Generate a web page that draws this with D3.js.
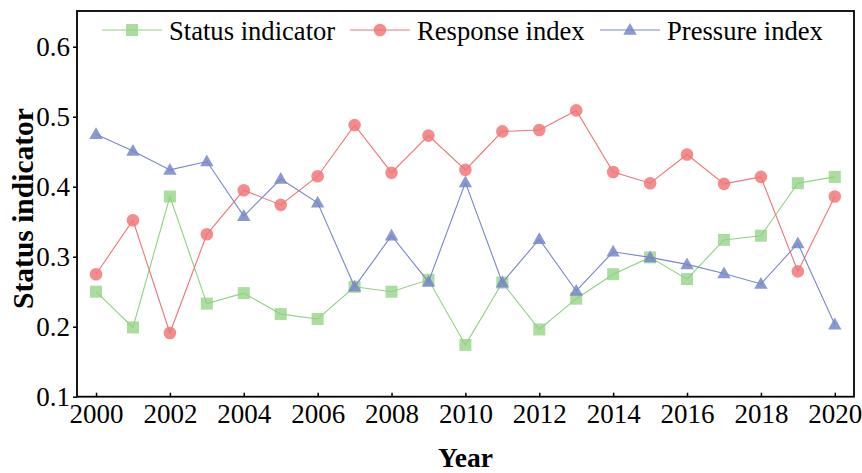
<!DOCTYPE html>
<html><head><meta charset="utf-8">
<script src="https://cdn.jsdelivr.net/npm/d3@7"></script>
<style>body{margin:0;background:#fff}svg{display:block}
svg text{font-family:"Liberation Serif","Times New Roman",Times,serif;}</style>
</head><body>
<script>
const years = d3.range(2000, 2021);
const statusIndicator = [0.250,0.199,0.386,0.233,0.248,0.218,0.211,0.257,0.250,0.267,0.174,0.263,0.196,0.240,0.275,0.299,0.268,0.324,0.330,0.405,0.414];
const responseIndex = [0.275,0.352,0.191,0.332,0.395,0.374,0.415,0.488,0.420,0.473,0.424,0.479,0.481,0.509,0.421,0.405,0.446,0.404,0.414,0.279,0.386];
const pressureIndex = [0.475,0.451,0.424,0.436,0.358,0.411,0.377,0.257,0.330,0.264,0.406,0.263,0.325,0.251,0.307,0.299,0.289,0.276,0.261,0.319,0.203];
const yTicks = [0.1,0.2,0.3,0.4,0.5,0.6];
const xTicks = [2000,2002,2004,2006,2008,2010,2012,2014,2016,2018,2020];
const seriesNames = ["Status indicator","Response index","Pressure index"];

const W=862,H=473;
const L=77,T=11,R=854,B=396.7;
const svg=d3.select("body").append("svg").attr("width",W).attr("height",H);
const x=d3.scaleLinear().domain([1999.485,2020.52]).range([L,R]);
const y=d3.scaleLinear().domain([0.1,0.651]).range([B,T]);

const series=[
 {name:seriesNames[0],vals:statusIndicator,color:"#8fd27f",op:0.75,shape:"square"},
 {name:seriesNames[1],vals:responseIndex,color:"#f07474",op:0.82,shape:"circle"},
 {name:seriesNames[2],vals:pressureIndex,color:"#7587c8",op:0.85,shape:"triangle"}
];
function marker(g,s){
  if(s.shape==="square") g.append("rect").attr("x",-6).attr("y",-6).attr("width",12).attr("height",12);
  else if(s.shape==="circle") g.append("circle").attr("r",6.3);
  else g.append("path").attr("d","M0,-7L6.7,4.8L-6.7,4.8Z");
  g.selectAll("*").attr("fill",s.color).attr("fill-opacity",s.op);
}
const line=d3.line().x((d,i)=>x(years[i])).y(d=>y(d));
series.forEach(s=>{
  svg.append("path").attr("d",line(s.vals)).attr("fill","none").attr("stroke",s.color).attr("stroke-width",1.1);
  s.vals.forEach((v,i)=>{
    const g=svg.append("g").attr("transform",`translate(${x(years[i])},${y(v)})`);
    marker(g,s);
  });
});

const yAxis=svg.append("g").attr("transform",`translate(${L},0)`)
  .call(d3.axisLeft(y).tickValues(yTicks).tickFormat(d3.format(".1f")).tickSize(4).tickPadding(3));
const xAxis=svg.append("g").attr("transform",`translate(0,${B})`)
  .call(d3.axisBottom(x).tickValues(xTicks).tickFormat(d3.format("d")).tickSize(-4).tickPadding(7));
[yAxis,xAxis].forEach(a=>{
  a.attr("font-family",null).attr("font-size",null);
  a.select(".domain").remove();
  a.selectAll(".tick line").attr("stroke","#000").attr("stroke-width",1.5);
  a.selectAll("text").attr("font-size",27).attr("fill","#000");
});
svg.append("rect").attr("x",L).attr("y",T).attr("width",R-L).attr("height",B-T)
  .attr("fill","none").attr("stroke","#000").attr("stroke-width",1.8);

svg.append("text").attr("x",465.5).attr("y",466.5).attr("text-anchor","middle")
  .attr("font-weight","bold").attr("font-size",27.5).text("Year");
svg.append("text").attr("transform",`translate(33,208.5) rotate(-90)`).attr("text-anchor","middle")
  .attr("font-weight","bold").attr("font-size",29.5).text(seriesNames[0]);

const legX=[102,350,600];
series.forEach((s,i)=>{
  const g=svg.append("g").attr("transform",`translate(${legX[i]},30)`);
  g.append("line").attr("x1",0).attr("x2",60).attr("stroke",s.color).attr("stroke-width",1.1);
  marker(g.append("g").attr("transform","translate(30,0)"),s);
  g.append("text").attr("x",67).attr("y",10).attr("font-size",26.6).text(s.name);
});
</script>
</body></html>
